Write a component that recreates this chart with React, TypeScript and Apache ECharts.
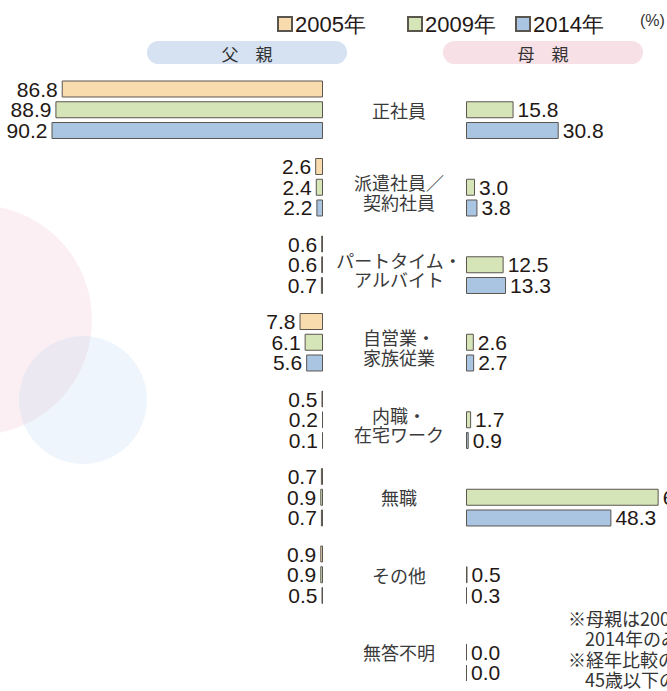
import React, { useEffect, useRef } from "react";
import * as echarts from "echarts";

const categories = [
  "正社員",
  "派遣社員／\n契約社員",
  "パートタイム・\nアルバイト",
  "自営業・\n家族従業",
  "内職・\n在宅ワーク",
  "無職",
  "その他",
  "無答不明",
];
const seriesNames = ["2005年", "2009年", "2014年"];
const father2005 = [86.8, 2.6, 0.6, 7.8, 0.5, 0.7, 0.9, 0.0];
const father2009 = [88.9, 2.4, 0.6, 6.1, 0.2, 0.9, 0.9, 0.0];
const father2014 = [90.2, 2.2, 0.7, 5.6, 0.1, 0.7, 0.5, 0.0];
const mother2005: (number | string)[] = categories.map(() => "-");
const mother2009 = [15.8, 3.0, 12.5, 2.6, 1.7, 64.0, 0.5, 0.0];
const mother2014 = [30.8, 3.8, 13.3, 2.7, 0.9, 48.3, 0.3, 0.0];
const footnotes = ["※母親は2009年と", "2014年のみ回答", "※経年比較のため", "45歳以下の父親"];

const fills = ["#f8dcae", "#d5e5b8", "#a9c5e2"];
const border = "#5b5550";
const numFont = "'Liberation Sans', Arial, sans-serif";
const jpFont = "'Noto Sans CJK JP', 'Noto Sans', sans-serif";

const GRID_TOP = 71;
const GRID_H = 625;
const PX_PER_UNIT = 3.01;
const LEFT_W = 301;
const RIGHT_LEFT = 466;
const RIGHT_W = 200;

export default function App() {
  const ref = useRef<HTMLDivElement>(null);
  useEffect(() => {
    if (!ref.current) return;
    const chart = echarts.init(ref.current, null, { renderer: "svg" });
    const mkSeries = (name: string, idx: number, data: any[], side: number) => ({
      type: "bar",
      name,
      xAxisIndex: side,
      yAxisIndex: side,
      data,
      barWidth: 17,
      barGap: "22%",
      barMinHeight: 1,
      itemStyle: { color: fills[idx], borderColor: border, borderWidth: 1 },
      label: {
        show: true,
        position: side === 0 ? "left" : "right",
        distance: 4,
        formatter: (p: any) => Number(p.value).toFixed(1),
        fontFamily: numFont,
        fontSize: 21,
        color: "#231815",
      },
      z: 3,
    });
    const legends = [272, 402, 510].map((left, i) => ({
      left,
      top: 8,
      data: [seriesNames[i]],
      icon: "rect",
      itemWidth: 14,
      itemHeight: 14,
      selectedMode: false,
      textStyle: { fontFamily: numFont, fontSize: 22, color: "#231815", padding: [0, 0, 0, -2] },
    }));
    const circles = [
      { cx: -23, cy: 320, r: 115, fill: "rgba(236,180,200,0.22)" },
      { cx: 83, cy: 400, r: 64, fill: "rgba(180,210,240,0.22)" },
    ];
    chart.setOption({
      animation: false,
      legend: legends,
      grid: [
        { left: 323 - LEFT_W, width: LEFT_W, top: GRID_TOP, height: GRID_H },
        { left: RIGHT_LEFT, width: RIGHT_W, top: GRID_TOP, height: GRID_H },
      ],
      xAxis: [
        { type: "value", gridIndex: 0, min: 0, max: LEFT_W / PX_PER_UNIT, inverse: true, show: false },
        { type: "value", gridIndex: 1, min: 0, max: RIGHT_W / PX_PER_UNIT, show: false },
      ],
      yAxis: [
        {
          type: "category",
          gridIndex: 0,
          data: categories,
          inverse: true,
          axisLine: { show: false },
          axisTick: { show: false },
          axisLabel: { show: false },
        },
        {
          type: "category",
          gridIndex: 1,
          data: categories,
          inverse: true,
          axisLine: { show: false },
          axisTick: { show: false },
          axisLabel: {
            margin: 67,
            align: "center",
            fontFamily: jpFont,
            fontSize: 18,
            lineHeight: 21,
            color: "#3a3a3a",
            formatter: (v: string) => {
              const lines = v.split("\n");
              if (lines.length === 1) return `{s|${v}}`;
              return `{f|${lines[0]}}\n{s|${lines[1]}}`;
            },
            rich: {
              s: { fontFamily: jpFont, fontSize: 18, lineHeight: 21, color: "#3a3a3a" },
              f: { fontFamily: jpFont, fontSize: 18, lineHeight: 29, verticalAlign: "bottom", color: "#3a3a3a" },
            },
          },
        },
      ],
      graphic: [
        ...circles.map((c) => ({
          type: "circle",
          z: 0,
          silent: true,
          shape: { cx: c.cx, cy: c.cy, r: c.r },
          style: { fill: c.fill },
        })),
        {
          type: "rect",
          shape: { x: 147, y: 41, width: 200, height: 23, r: 11.5 },
          style: { fill: "#d6e2f1" },
        },
        {
          type: "rect",
          shape: { x: 443, y: 41, width: 200, height: 23, r: 11.5 },
          style: { fill: "#f8e0e7" },
        },
        {
          type: "text",
          x: 247,
          y: 53,
          style: { text: "父　親", fontFamily: jpFont, fontSize: 17, fill: "#333333", align: "center", verticalAlign: "middle" },
        },
        {
          type: "text",
          x: 543,
          y: 53,
          style: { text: "母　親", fontFamily: jpFont, fontSize: 17, fill: "#333333", align: "center", verticalAlign: "middle" },
        },
        {
          type: "text",
          x: 640,
          y: 20,
          style: { text: "(%)", fontFamily: numFont, fontSize: 16, fill: "#333333", verticalAlign: "middle" },
        },
        ...footnotes.map((t, i) => ({
          type: "text",
          x: i % 2 === 0 ? 568 : 585,
          y: [618, 638, 659, 679][i],
          style: { text: t, fontFamily: jpFont, fontSize: 18, fill: "#333333", verticalAlign: "middle" },
        })),
      ],
      series: [
        mkSeries(seriesNames[0], 0, father2005, 0),
        mkSeries(seriesNames[1], 1, father2009, 0),
        mkSeries(seriesNames[2], 2, father2014, 0),
        mkSeries(seriesNames[0], 0, mother2005, 1),
        mkSeries(seriesNames[1], 1, mother2009, 1),
        mkSeries(seriesNames[2], 2, mother2014, 1),
      ],
    });
    return () => chart.dispose();
  }, []);
  return (
    <div
      ref={ref}
      style={{ position: "absolute", left: 0, top: 0, width: 667, height: 691, background: "#ffffff" }}
    />
  );
}
